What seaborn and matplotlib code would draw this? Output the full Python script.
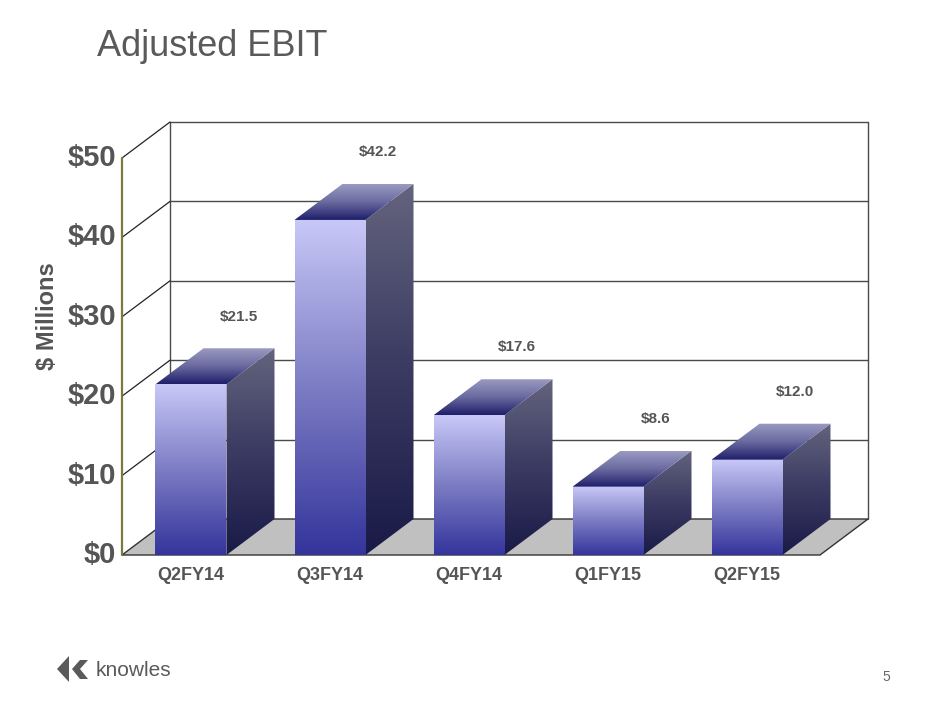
import numpy as np
import matplotlib
matplotlib.use("Agg")
import matplotlib.pyplot as plt
from matplotlib.patches import Polygon
import seaborn as sns

# dados do gráfico
categories = ["Q2FY14", "Q3FY14", "Q4FY14", "Q1FY15", "Q2FY15"]
ebit = [21.5, 42.2, 17.6, 8.6, 12.0]
value_labels = ["$21.5", "$42.2", "$17.6", "$8.6", "$12.0"]
ticks = [0, 10, 20, 30, 40, 50]
tick_labels = ["$0", "$10", "$20", "$30", "$40", "$50"]

sns.set_theme(style="white")
plt.rcParams["font.family"] = ["Liberation Sans", "DejaVu Sans"]

W, H = 940, 705
fig = plt.figure(figsize=(W / 100, H / 100), dpi=100)
ax = fig.add_axes([0, 0, 1, 1])
ax.set_axis_off()

# escala: 1 categoria = 139 px, 1 unidade = 7.94 px
ppx, ppy = 139.0, 7.94
x_orig, y_orig = 191, 555
DX, DY = 48 / ppx, 36 / ppy          # profundidade 3D
BW = 71 / ppx                         # largura da barra
x0, x1 = (122 - x_orig) / ppx, (820 - x_orig) / ppx

grey_txt = "#555555"
line_c = "#4a4a4a"

# paletas em degradê
front_cmap = sns.blend_palette(["#34349c", "#7c7cc4", "#c8c8f8"], as_cmap=True)
side_cmap = sns.blend_palette(["#1a1a48", "#3a3a62", "#64647e"], as_cmap=True)
top_cmap = sns.blend_palette(["#1e1e6a", "#6a6aa0", "#9a9ac2"], as_cmap=True)


def grad_poly(verts, cmap, z):
    poly = Polygon(verts, closed=True, facecolor="none", edgecolor="none", zorder=z)
    ax.add_patch(poly)
    xs = [v[0] for v in verts]
    ys = [v[1] for v in verts]
    g = np.linspace(0, 1, 256).reshape(-1, 1)
    im = ax.imshow(g, cmap=cmap, aspect="auto", origin="lower",
                   extent=(min(xs), max(xs), min(ys), max(ys)),
                   zorder=z, interpolation="bilinear")
    im.set_clip_path(poly)


# piso
ax.add_patch(Polygon([(x0, 0), (x1, 0), (x1 + DX, DY), (x0 + DX, DY)], closed=True,
                     facecolor="#c0c0c0", edgecolor="#333333", lw=1.0, zorder=1))

# parede de fundo e linhas de grade
for t in ticks[1:]:
    ax.plot([x0 + DX, x1 + DX], [t + DY, t + DY], color=line_c, lw=1.0, zorder=1)
ax.plot([x0 + DX, x0 + DX], [DY, ticks[-1] + DY], color=line_c, lw=1.0, zorder=1)
ax.plot([x1 + DX, x1 + DX], [DY, ticks[-1] + DY], color=line_c, lw=1.0, zorder=1)
# parede lateral
for t in ticks[1:]:
    ax.plot([x0, x0 + DX], [t, t + DY], color="#222222", lw=0.9, zorder=1)
ax.plot([x0, x0], [0, ticks[-1]], color="#7a7a3a", lw=1.6, zorder=1)

for t, lab in zip(ticks, tick_labels):
    ax.text(x0 - 0.04, t, lab, ha="right", va="center", fontsize=21,
            fontweight="bold", color=grey_txt)

# barras 3D
for i, (cat, v, lab) in enumerate(zip(categories, ebit, value_labels)):
    l, r = i - BW / 2, i + BW / 2
    grad_poly([(r, 0), (r + DX, DY), (r + DX, v + DY), (r, v)], side_cmap, 3)
    grad_poly([(l, v), (r, v), (r + DX, v + DY), (l + DX, v + DY)], top_cmap, 3)
    grad_poly([(l, 0), (r, 0), (r, v), (l, v)], front_cmap, 4)
    ax.text(i + DX, v + DY + 4, lab, ha="center", va="center", fontsize=11,
            fontweight="bold", color=grey_txt, zorder=6)
    ax.text(i, -2.6, cat, ha="center", va="center", fontsize=13,
            fontweight="bold", color=grey_txt)

ax.text((48 - x_orig) / ppx, (y_orig - 316) / ppy, "$ Millions", rotation=90,
        ha="center", va="center", fontsize=17, fontweight="bold", color=grey_txt)

ax.set_xlim(-x_orig / ppx, (W - x_orig) / ppx)
ax.set_ylim(-(H - y_orig) / ppy, y_orig / ppy)

# título e rodapé
fig.text(97 / W, 1 - 47 / H, "Adjusted EBIT", ha="left", va="center",
         fontsize=26, color="#5a5a5a")
fig.text(886 / W, 1 - 677 / H, "5", ha="center", va="center", fontsize=10, color="#666666")

# logotipo
def px(pts):
    return [(x / W, 1 - y / H) for x, y in pts]

fig.patches.append(Polygon(px([(57, 669), (69, 656), (69, 682)]), closed=True,
                           transform=fig.transFigure, facecolor="#5a5a5a", edgecolor="none"))
fig.patches.append(Polygon(px([(72, 669), (80, 660), (88, 660), (80, 669), (88, 679), (80, 679)]),
                           closed=True, transform=fig.transFigure, facecolor="#5a5a5a",
                           edgecolor="none"))
fig.text(96 / W, 1 - 671 / H, "knowles", ha="left", va="center", fontsize=15, color="#5a5a5a")

fig.savefig("out.png", dpi=100, facecolor="white")
